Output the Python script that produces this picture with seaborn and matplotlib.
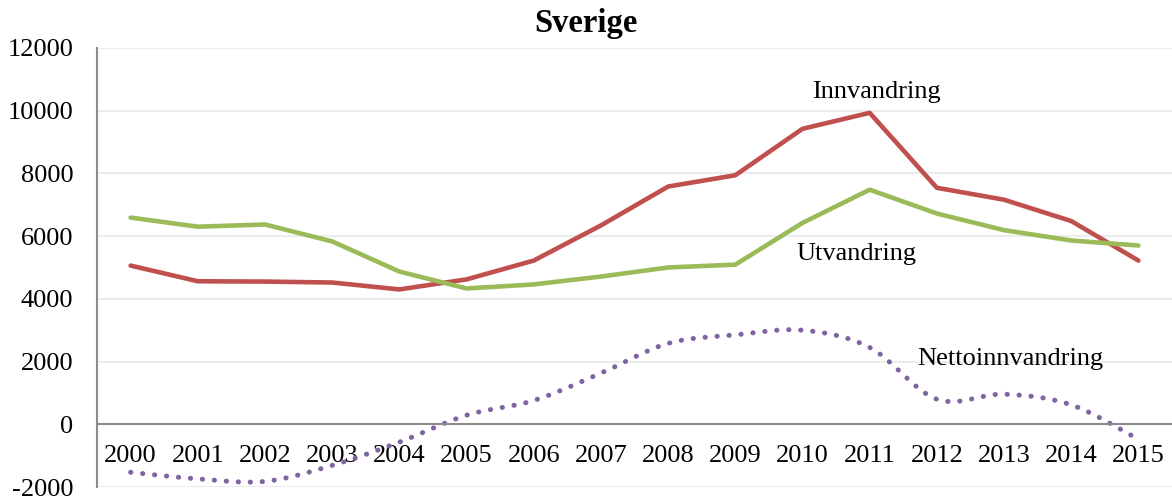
import numpy as np
import pandas as pd
import seaborn as sns
import matplotlib
matplotlib.use('Agg')
import matplotlib.pyplot as plt

years = [str(y) for y in range(2000, 2016)]
innvandring = [5060, 4560, 4550, 4520, 4300, 4620, 5220, 6340, 7580, 7940, 9420, 9930, 7540, 7160, 6480, 5220]
utvandring = [6590, 6300, 6370, 5830, 4870, 4330, 4460, 4710, 5000, 5090, 6420, 7480, 6720, 6190, 5860, 5700]
netto = [-1530, -1740, -1820, -1310, -570, 290, 760, 1630, 2580, 2850, 3000, 2450, 800, 960, 620, -480]

red = '#C0504D'
green = '#9BBB59'
purple = '#8064A2'

sns.set_style('white')
plt.rcParams['font.family'] = ['Liberation Serif', 'DejaVu Serif']
plt.rcParams['text.color'] = 'black'
plt.rcParams['xtick.color'] = 'black'
plt.rcParams['ytick.color'] = 'black'
plt.rcParams['axes.unicode_minus'] = False

df = pd.DataFrame({'x': np.arange(len(years)), 'Innvandring': innvandring,
                   'Utvandring': utvandring})


# Excel-style smoothed line (Catmull-Rom through the data points)
def smooth(xs, ys, n=20):
    xs = np.asarray(xs, float)
    ys = np.asarray(ys, float)
    px = np.concatenate([[xs[0]], xs, [xs[-1]]])
    py = np.concatenate([[ys[0]], ys, [ys[-1]]])
    out_x, out_y = [], []
    t = np.linspace(0, 1, n, endpoint=False)
    for i in range(1, len(px) - 2):
        p0, p1, p2, p3 = py[i - 1], py[i], py[i + 1], py[i + 2]
        q0, q1, q2, q3 = px[i - 1], px[i], px[i + 1], px[i + 2]
        for a, b, c, d, out in ((q0, q1, q2, q3, out_x), (p0, p1, p2, p3, out_y)):
            out.extend(0.5 * (2 * b + (-a + c) * t + (2 * a - 5 * b + 4 * c - d) * t ** 2
                              + (-a + 3 * b - 3 * c + d) * t ** 3))
    out_x.append(xs[-1])
    out_y.append(ys[-1])
    return np.array(out_x), np.array(out_y)


sx, sy = smooth(df['x'], netto)
net_df = pd.DataFrame({'x': sx, 'y': sy})

fig = plt.figure(figsize=(11.72, 4.99), dpi=100)
ax = fig.add_axes([0.0828, 0.024, 0.9172, 0.88])

sns.lineplot(data=df, x='x', y='Innvandring', color=red, lw=3.3, ax=ax)
sns.lineplot(data=df, x='x', y='Utvandring', color=green, lw=3.3, ax=ax)
sns.lineplot(data=net_df, x='x', y='y', sort=False, color=purple, lw=3.6,
             dashes=False, ax=ax)
dots = ax.lines[-1]
dots.set_linestyle((0, (0.05, 2.35)))
dots.set_dash_capstyle('round')

ax.set_xlim(-0.5, len(years) - 0.5)
ax.set_ylim(-2000, 12000)
ax.set_yticks(range(-2000, 12001, 2000))
ax.set_xticks(range(len(years)))
ax.set_xticklabels(years)
ax.grid(axis='y', color='#ececec', lw=1.5)
ax.set_axisbelow(True)
ax.tick_params(axis='y', length=0, pad=17, labelsize=19)
ax.tick_params(axis='x', length=0, pad=15, labelsize=19)
ax.set_xlabel('')
ax.set_ylabel('')

for s in ['top', 'right']:
    ax.spines[s].set_visible(False)
ax.spines['bottom'].set_position(('data', 0))
ax.spines['bottom'].set_color('#8c8c8c')
ax.spines['bottom'].set_linewidth(1.5)
ax.spines['left'].set_color('#8c8c8c')
ax.spines['left'].set_linewidth(1.5)

ax.text(11.1, 10600, 'Innvandring', ha='center', va='center', fontsize=19)
ax.text(10.8, 5420, 'Utvandring', ha='center', va='center', fontsize=19)
ax.text(13.1, 2070, 'Nettoinnvandring', ha='center', va='center', fontsize=19)

fig.text(0.5, 0.952, 'Sverige', ha='center', va='center', fontsize=23.5,
         fontweight='bold')

fig.savefig('out.png', dpi=100)
